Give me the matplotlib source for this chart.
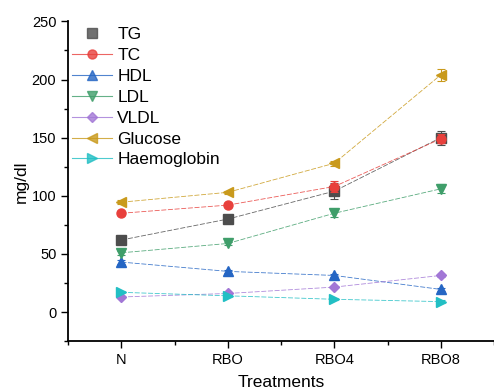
import matplotlib.pyplot as plt
from matplotlib.ticker import MultipleLocator

plt.rcParams['font.family'] = ['Liberation Sans', 'DejaVu Sans']

treatments = ['N', 'RBO', 'RBO4', 'RBO8']

tg = [62, 80, 104, 150]
tg_err = [1.5, 2, 7, 6]
tc = [85, 92, 108, 149]
tc_err = [1.5, 1.5, 5, 4]
hdl = [43, 35, 31.5, 19.5]
hdl_err = [2, 1.5, 1.5, 1.5]
ldl = [51, 59, 85, 106]
ldl_err = [1.5, 1.5, 3, 4]
vldl = [13, 16, 21.5, 31.5]
vldl_err = [1, 1, 1, 1]
glucose = [94.5, 103, 128, 204]
glucose_err = [1.5, 1.5, 2, 5]
haemo = [17, 14, 11, 9]
haemo_err = [1, 1, 1, 1]

series = [
    ('TG', tg, tg_err, '#4d4d4d', 's'),
    ('TC', tc, tc_err, '#e8403c', 'o'),
    ('HDL', hdl, hdl_err, '#2566c4', '^'),
    ('LDL', ldl, ldl_err, '#3f9e6a', 'v'),
    ('VLDL', vldl, vldl_err, '#a277d6', 'D'),
    ('Glucose', glucose, glucose_err, '#c99a1c', '<'),
    ('Haemoglobin', haemo, haemo_err, '#22bfc4', '>'),
]

fig = plt.figure(figsize=(4.94, 3.89), dpi=100)
ax = fig.add_axes([0.138, 0.123, 0.862, 0.822])

x = list(range(1, len(treatments) + 1))
handles = []
for name, vals, err, col, mk in series:
    ms = 5.5 if mk == 'D' else 6.5
    ax.errorbar(x, vals, yerr=err, fmt='none', ecolor=col, elinewidth=0.8,
                capsize=3, capthick=0.8)
    ax.plot(x, vals, color=col, linestyle=(0, (6, 2)), linewidth=0.6, alpha=0.85)
    ax.plot(x, vals, linestyle='none', marker=mk, markersize=ms, color=col)
    # legend handle: TG shows only its marker in the original
    ls = 'none' if name == 'TG' else '-'
    leg_line, = ax.plot([], [], color=col, linewidth=0.8, alpha=0.8, linestyle=ls,
                        marker=mk, markersize=ms, label=name)
    handles.append(leg_line)

ax.set_xlim(0.5, 4.5)
ax.set_ylim(-25, 250)
ax.set_xticks(x)
ax.set_xticklabels(treatments, fontsize=10.5)
ax.xaxis.set_minor_locator(MultipleLocator(0.5))
ax.yaxis.set_major_locator(MultipleLocator(50))
ax.yaxis.set_minor_locator(MultipleLocator(25))
ax.tick_params(axis='y', labelsize=10.5)
ax.tick_params(which='major', length=5, width=1)
ax.tick_params(which='minor', length=3, width=1)
ax.spines['top'].set_visible(False)
ax.spines['right'].set_visible(False)
ax.spines['left'].set_linewidth(1.3)
ax.spines['bottom'].set_linewidth(1.3)

ax.set_xlabel('Treatments', fontsize=12.5, labelpad=6)
ax.set_ylabel('mg/dl', fontsize=12.5, labelpad=2)

ax.legend(handles=handles, loc='upper left', bbox_to_anchor=(-0.015, 1.015),
          frameon=False, fontsize=12.5, handlelength=2.3, handletextpad=0.3,
          labelspacing=0.33, borderaxespad=0.2)

fig.savefig('out.png', dpi=100)
